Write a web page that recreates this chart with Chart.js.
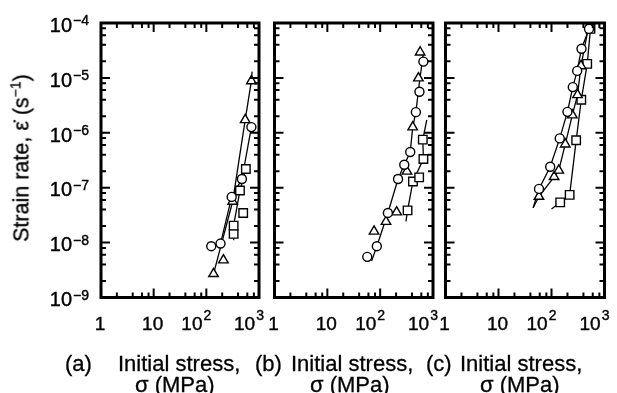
<!DOCTYPE html>
<html>
<head>
<meta charset="utf-8">
<script src="https://cdn.jsdelivr.net/npm/chart.js@4.4.1/dist/chart.umd.min.js"></script>
<style>
  body { margin: 0; background: #fff; width: 617px; height: 393px; position: relative; overflow: hidden;
         font-family: "Liberation Sans", Arial, sans-serif; color: #000; }
  canvas { position: absolute; left: 0; top: 0; }
  .cap { position: absolute; font-size: 22px; line-height: 22px; white-space: nowrap; -webkit-text-stroke: 0.3px #000; }
  #ytitle { position: absolute; left: 21px; top: 158px; font-size: 21.5px; white-space: nowrap; -webkit-text-stroke: 0.3px #000;
            transform: translate(-50%, -50%) rotate(-90deg); }
  #ytitle sup { font-size: 14px; }
</style>
</head>
<body>
<canvas id="panelA" width="617" height="393"></canvas>
<canvas id="panelB" width="617" height="393"></canvas>
<canvas id="panelC" width="617" height="393"></canvas>

<div id="ytitle">Strain rate, &#949;&#775; (s<sup>&minus;1</sup>)</div>
<div class="cap" style="left:65px;top:353px">(a)</div>
<div class="cap" style="left:118px;top:353px">Initial stress,</div>
<div class="cap" style="left:135px;top:374px">&sigma; (MPa)</div>
<div class="cap" style="left:255px;top:353px">(b)</div>
<div class="cap" style="left:291px;top:353px">Initial stress,</div>
<div class="cap" style="left:310px;top:374px">&sigma; (MPa)</div>
<div class="cap" style="left:426px;top:353px">(c)</div>
<div class="cap" style="left:460px;top:353px">Initial stress,</div>
<div class="cap" style="left:480px;top:374px">&sigma; (MPa)</div>

<script>
// ticks
const xTicks = [1, 10, 100, 1000];
const yTicks = [1e-9, 1e-8, 1e-7, 1e-6, 1e-5, 1e-4];
const minorSteps = [2, 4, 6, 8];

// panel (a)  [stress MPa, strain rate 1/s]
const aCircles   = [[124, 8.6e-9], [186, 9.6e-9], [303, 6.8e-8], [474, 1.44e-7], [717, 1.27e-6]];
const aTriangles = [[137, 2.7e-9], [211, 4.8e-9], [316, 5.6e-8], [547, 1.72e-6], [717, 8.8e-6]];
const aSquares   = [[330, 1.44e-8], [330, 2.04e-8], [501, 3.47e-8], [435, 8.9e-8], [563, 2.19e-7]];
const aCircleLine   = [[124, 8.6e-9], [186, 9.6e-9], [303, 6.8e-8], [474, 1.44e-7], [717, 1.27e-6]];
const aTriangleLine = [[137, 2.7e-9], [316, 5.6e-8], [547, 1.72e-6], [717, 8.8e-6], [740, 1.3e-5]];
const aSquareLine   = [[322, 1.13e-8], [330, 1.44e-8], [330, 2.04e-8], [435, 8.9e-8], [563, 2.19e-7]];

// panel (b)
const bCircles   = [[57, 5.5e-9], [86.5, 8.6e-9], [140, 3.47e-8], [218, 1.44e-7], [286, 2.62e-7],
                    [371, 4.46e-7], [474, 2.38e-6], [554, 5.6e-6], [658, 1.98e-5]];
const bTriangles = [[76.6, 1.6e-8], [129, 2.41e-8], [205, 3.59e-8], [321, 1.98e-7], [413, 1.27e-6],
                    [530, 9.9e-6], [571, 2.93e-5]];
const bSquares   = [[330, 3.86e-8], [417, 1.3e-7], [547, 1.54e-7], [658, 3.33e-7], [641, 7.5e-7]];
const bMainLine   = [[68.8, 4.6e-9], [86.5, 8.6e-9], [140, 3.47e-8], [218, 1.44e-7], [286, 2.62e-7],
                     [371, 4.46e-7], [413, 1.27e-6], [474, 2.38e-6], [547, 7.5e-6], [650, 2.62e-5]];
const bSquareLine = [[308, 2.44e-8], [330, 3.86e-8], [417, 1.3e-7], [658, 3.33e-7], [641, 7.5e-7], [762, 1.72e-6]];

// panel (c)
const cCircles   = [[58.1, 9.5e-8], [94.5, 2.41e-7], [143, 7.9e-7], [200, 2.41e-6], [252, 6.8e-6],
                    [305, 1.34e-5], [368, 3.4e-5], [510, 7.8e-5]];
const cTriangles = [[58, 6.9e-8], [112, 1.58e-7], [137, 2.07e-7], [182, 6.2e-7], [247, 2.1e-6],
                    [310, 4.9e-6], [360, 1.65e-5]];
const cSquares   = [[146, 5.4e-8], [220, 7.4e-8], [292, 7.3e-7], [365, 4.0e-6], [472, 1.8e-5], [544, 7.8e-5]];
const cCircleLine   = [[45, 4.3e-8]].concat(cCircles);
const cTriangleLine = [[45, 4.3e-8]].concat(cTriangles, [[480, 7e-5]]);
const cSquareLine   = [[100, 4.1e-8]].concat(cSquares);

const FONT = '"Liberation Sans", Arial, sans-serif';
const toXY = arr => arr.map(p => ({ x: p[0], y: p[1] }));

function markers(data, style, r) {
    return { data: toXY(data), showLine: false, pointStyle: style, pointRadius: r, pointHoverRadius: r,
             backgroundColor: '#fff', borderColor: '#000', borderWidth: 1.4 };
}
function line(data) {
    return { data: toXY(data), showLine: true, pointRadius: 0, borderColor: '#000', borderWidth: 1.3, fill: false };
}

function text(ctx, s, x, y) {
    ctx.fillText(s, x, y);
    ctx.strokeText(s, x, y);
}

function drawLabel(ctx, base, exp, left, baseY, expY, baseSize, expSize) {
    ctx.font = baseSize + 'px ' + FONT;
    text(ctx, base, left, baseY);
    const bw = ctx.measureText(base).width;
    ctx.font = expSize + 'px ' + FONT;
    text(ctx, exp, left + bw + 1, expY);
}

// frame, inward ticks and tick labels
const frameTicks = {
    id: 'frameTicks',
    afterDatasetsDraw(chart, args, opts) {
        const { ctx, chartArea: a, scales: { x, y } } = chart;
        ctx.save();
        ctx.strokeStyle = '#000';
        ctx.lineWidth = 2;
        ctx.beginPath();
        for (let d = 0; d < 3; d++) {
            [1].concat(minorSteps).forEach(m => {
                const v = m * Math.pow(10, d);
                if (v <= 1) return;
                const px = x.getPixelForValue(v);
                const len = m === 1 ? 9 : 5;
                ctx.moveTo(px, a.bottom); ctx.lineTo(px, a.bottom - len);
                ctx.moveTo(px, a.top); ctx.lineTo(px, a.top + len);
            });
        }
        for (let d = -9; d < -4; d++) {
            [1].concat(minorSteps).forEach(m => {
                const v = m * Math.pow(10, d);
                if (m === 1 && d === -9) return;
                const py = y.getPixelForValue(v);
                const len = m === 1 ? 9 : 5;
                ctx.moveTo(a.left, py); ctx.lineTo(a.left + len, py);
                ctx.moveTo(a.right, py); ctx.lineTo(a.right - len, py);
            });
        }
        ctx.stroke();
        ctx.lineWidth = 3;
        ctx.strokeRect(a.left, a.top, a.right - a.left, a.bottom - a.top);

        ctx.fillStyle = '#000';
        ctx.lineWidth = 0.4;
        ctx.textAlign = 'left';
        ctx.textBaseline = 'alphabetic';
        xTicks.forEach(v => {
            const e = Math.round(Math.log10(v));
            const px = x.getPixelForValue(v);
            ctx.font = '19px ' + FONT;
            if (e < 2) {
                const w = ctx.measureText(String(v)).width;
                text(ctx, String(v), px - w / 2 - 1, a.bottom + 32.5);
            } else {
                const bw = ctx.measureText('10').width;
                ctx.font = '14px ' + FONT;
                const ew = ctx.measureText(String(e)).width;
                const left = px - 10 - (bw + ew + 1) / 2;
                drawLabel(ctx, '10', String(e), left, a.bottom + 32.5, a.bottom + 22.5, 19, 14);
            }
        });
        if (opts.yLabels) {
            yTicks.forEach(v => {
                const e = Math.round(Math.log10(v));
                const py = y.getPixelForValue(v);
                const exp = '\u2212' + Math.abs(e);
                ctx.font = '20px ' + FONT;
                const bw = ctx.measureText('10').width;
                ctx.font = '14px ' + FONT;
                const ew = ctx.measureText(exp).width;
                const left = a.left - 12 - ew - 1 - bw;
                drawLabel(ctx, '10', exp, left, py + 8.7, py + 2, 20, 14);
            });
        }
        ctx.restore();
    }
};

function makePanel(id, box, sets, yLabels) {
    new Chart(document.getElementById(id), {
        type: 'scatter',
        data: { datasets: sets },
        options: {
            responsive: false,
            animation: false,
            events: [],
            layout: { padding: { left: box.left, right: 617 - box.right, top: 23, bottom: 393 - 297.5 } },
            plugins: { legend: { display: false }, tooltip: { enabled: false }, frameTicks: { yLabels: yLabels } },
            scales: {
                x: { type: 'logarithmic', min: 1, max: 1000, display: false },
                y: { type: 'logarithmic', min: 1e-9, max: 1e-4, display: false }
            }
        },
        plugins: [frameTicks]
    });
}

makePanel('panelA', { left: 101, right: 259 }, [
    markers(aCircles, 'circle', 4.5), markers(aTriangles, 'triangle', 5.5), markers(aSquares, 'rect', 6),
    line(aCircleLine), line(aTriangleLine), line(aSquareLine)
], true);

makePanel('panelB', { left: 274.5, right: 433 }, [
    markers(bCircles, 'circle', 4.5), markers(bTriangles, 'triangle', 5.5), markers(bSquares, 'rect', 6),
    line(bMainLine), line(bSquareLine)
], false);

makePanel('panelC', { left: 445.5, right: 604.5 }, [
    markers(cCircles, 'circle', 4.5), markers(cTriangles, 'triangle', 5.5), markers(cSquares, 'rect', 6),
    line(cCircleLine), line(cTriangleLine), line(cSquareLine)
], false);
</script>
</body>
</html>
